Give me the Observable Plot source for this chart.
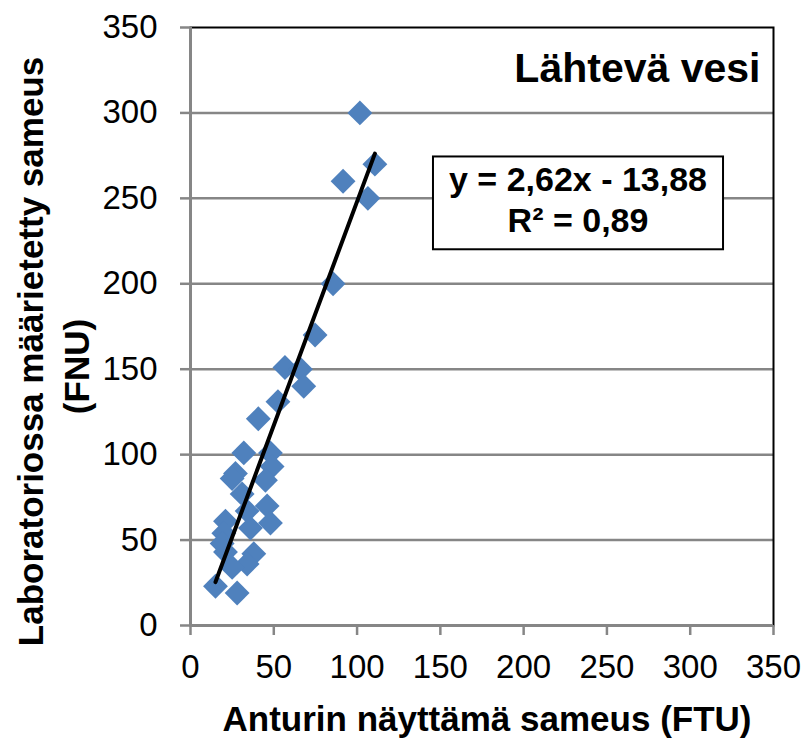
<!DOCTYPE html>
<html>
<head>
<meta charset="utf-8">
<script src="https://cdn.jsdelivr.net/npm/d3@7"></script>
<script src="https://cdn.jsdelivr.net/npm/@observablehq/plot@0.6"></script>
<style>
  html, body { margin: 0; padding: 0; background: #fff; }
  body { font-family: "Liberation Sans", Arial, sans-serif; }
</style>
</head>
<body>
<div id="chart"></div>
<script>
// Data
const sensorFTU = [101.7, 110.7, 91.6, 106.5, 85.6, 74.8, 56.7, 66, 68, 52.5, 40.7, 32, 48, 49, 27, 25, 45, 31, 46, 34, 21, 48, 36, 20, 19, 38, 21, 34, 25, 15, 28];
const labFNU    = [300,   270,   260,  250,   200,  170,  151,  150, 140, 131, 121, 101, 101, 93, 89, 86, 85, 77, 70, 67, 61, 60, 57, 54, 48, 42, 43, 36, 34, 23, 19];
const xTicks = [0, 50, 100, 150, 200, 250, 300, 350];
const yTicks = [0, 50, 100, 150, 200, 250, 300, 350];
const slope = 2.62;
const intercept = -13.88;
const equationLines = ["y = 2,62x - 13,88", "R² = 0,89"];
const panelTitle = "Lähtevä vesi";
const xTitle = "Anturin näyttämä sameus (FTU)";
const yTitleLines = ["Laboratoriossa määrietetty sameus", "(FNU)"];

const points = sensorFTU.map((x, i) => ({x, y: labFNU[i]}));
const [xmin, xmax] = d3.extent(sensorFTU);
const trend = [xmin, xmax].map(x => ({x, y: slope * x + intercept}));

const blue = "#4F81BD";
const gray = "#868686";
const font = "Liberation Sans, Arial, sans-serif";

const chart = Plot.plot({
  width: 807,
  height: 744,
  marginLeft: 190,
  marginRight: 34,
  marginTop: 27,
  marginBottom: 119,
  style: {fontFamily: font, background: "#fff", color: "#000", overflow: "visible"},
  x: {domain: [0, 350]},
  y: {domain: [0, 350]},
  marks: [
    Plot.ruleY(yTicks.filter(t => t > 0 && t < 350), {stroke: gray, strokeWidth: 2.5}),
    Plot.frame({stroke: "#000", strokeWidth: 2}),
    Plot.ruleX([0], {stroke: gray, strokeWidth: 3}),
    Plot.ruleY([0], {stroke: gray, strokeWidth: 3}),
    Plot.axisX(xTicks, {tickSize: 10, tickPadding: 19, stroke: gray, strokeWidth: 2.5, fill: "#000", fontSize: 33, label: null, tickFormat: d => String(d)}),
    Plot.axisY(yTicks, {tickSize: 10, tickPadding: 23, stroke: gray, strokeWidth: 2.5, fill: "#000", fontSize: 33, label: null, tickFormat: d => String(d)}),
    Plot.dot(points, {x: "x", y: "y", symbol: "diamond2", r: 11.2, fill: blue, stroke: "none"}),
    Plot.line(trend, {x: "x", y: "y", stroke: "#000", strokeWidth: 4}),
    Plot.text([panelTitle], {frameAnchor: "top-right", textAnchor: "end", dx: -13, dy: 25, fontSize: 41, fontWeight: "bold", fill: "#000", lineAnchor: "top"}),
    Plot.text([equationLines.join("\n")], {frameAnchor: "top-right", textAnchor: "middle", dx: -195.5, dy: 135, fontSize: 34, fontWeight: "bold", fill: "#000", lineAnchor: "top", lineHeight: 1.2, className: "equation"}),
    Plot.text([xTitle], {frameAnchor: "bottom", textAnchor: "middle", dx: 5, dy: 94, fontSize: 35, fontWeight: "bold", fill: "#000", lineAnchor: "middle"}),
    Plot.text([yTitleLines[0]], {frameAnchor: "left", textAnchor: "middle", dx: -159, dy: 25, rotate: -90, fontSize: 35, fontWeight: "bold", fill: "#000", lineAnchor: "middle"}),
    Plot.text([yTitleLines[1]], {frameAnchor: "left", textAnchor: "middle", dx: -113, dy: 40, rotate: -90, fontSize: 35, fontWeight: "bold", fill: "#000", lineAnchor: "middle"})
  ]
});

document.getElementById("chart").appendChild(chart);

// Box around the equation text, sized from the text itself
const eq = chart.querySelector("g.equation");
if (eq) {
  const bb = eq.getBBox();
  const padX = 16, padTop = 4, padBottom = 10;
  const rect = document.createElementNS("http://www.w3.org/2000/svg", "rect");
  rect.setAttribute("x", bb.x - padX);
  rect.setAttribute("y", bb.y - padTop);
  rect.setAttribute("width", bb.width + 2 * padX);
  rect.setAttribute("height", bb.height + padTop + padBottom);
  rect.setAttribute("fill", "#fff");
  rect.setAttribute("stroke", "#000");
  rect.setAttribute("stroke-width", 2);
  const t = eq.getAttribute("transform");
  if (t) rect.setAttribute("transform", t);
  eq.parentNode.insertBefore(rect, eq);
}
</script>
</body>
</html>
